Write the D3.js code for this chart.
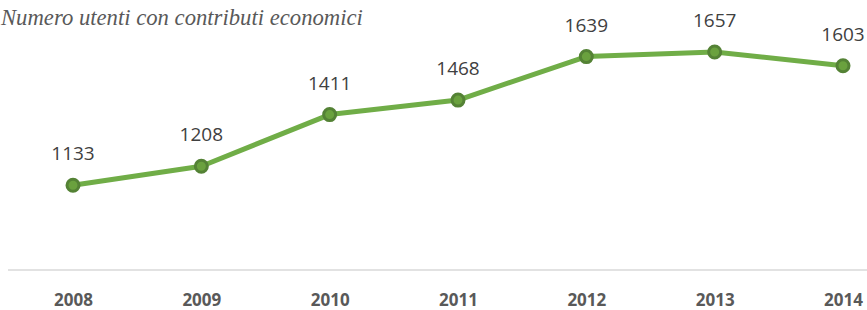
<!DOCTYPE html>
<html><head><meta charset="utf-8">
<script src="https://cdn.jsdelivr.net/npm/d3@7"></script>
<style>html,body{margin:0;padding:0;background:#fff;overflow:hidden}</style>
</head><body>
<svg id="c" width="867" height="310"></svg>
<script>
const years = ["2008","2009","2010","2011","2012","2013","2014"];
const values = [1133,1208,1411,1468,1639,1657,1603];
const title = "Numero utenti con contributi economici";

const svg = d3.select("#c");
const x = d3.scalePoint().domain(years).range([73, 843]);
const y = d3.scaleLinear().domain([800, 1657]).range([270, 52]);

// axis baseline
svg.append("line").attr("x1", 8).attr("x2", 867).attr("y1", y(800)).attr("y2", y(800))
  .attr("stroke", "#d9d9d9").attr("stroke-width", 1.5);

// x axis labels
const xAxis = d3.axisBottom(x).tickSize(0).tickPadding(0);
const gx = svg.append("g").attr("transform", `translate(0,${y(800)})`).call(xAxis);
gx.select(".domain").remove();
gx.selectAll("text").attr("dy", null).attr("y", 36)
  .attr("font-family", "'Open Sans', sans-serif").attr("font-weight", "bold")
  .attr("font-size", 17).attr("fill", "#595959");

// line
const data = years.map((d,i)=>({year:d, value:values[i]}));
svg.append("path").datum(data)
  .attr("d", d3.line().x(d=>x(d.year)).y(d=>y(d.value)))
  .attr("fill","none").attr("stroke","#70ad47").attr("stroke-width",5).attr("stroke-linejoin","round");

svg.selectAll("circle.pt").data(data).join("circle")
  .attr("class","pt").attr("cx",d=>x(d.year)).attr("cy",d=>y(d.value)).attr("r",6)
  .attr("fill","#6aa13e").attr("stroke","#548235").attr("stroke-width",3);

svg.selectAll("text.lbl").data(data).join("text")
  .attr("class","lbl").attr("x",d=>x(d.year)).attr("y",d=>y(d.value)-25)
  .attr("text-anchor","middle").attr("font-family","'Open Sans', sans-serif")
  .attr("font-size",19).attr("fill","#404040").text(d=>d.value);

const t = svg.append("text").attr("x",1).attr("y",25)
  .attr("font-family","'Liberation Serif', serif").attr("font-style","italic")
  .attr("font-size",21).attr("fill","#595959").text(title);
const w = t.node().getComputedTextLength();
t.attr("font-size", 21*362/w);
</script>
</body></html>
